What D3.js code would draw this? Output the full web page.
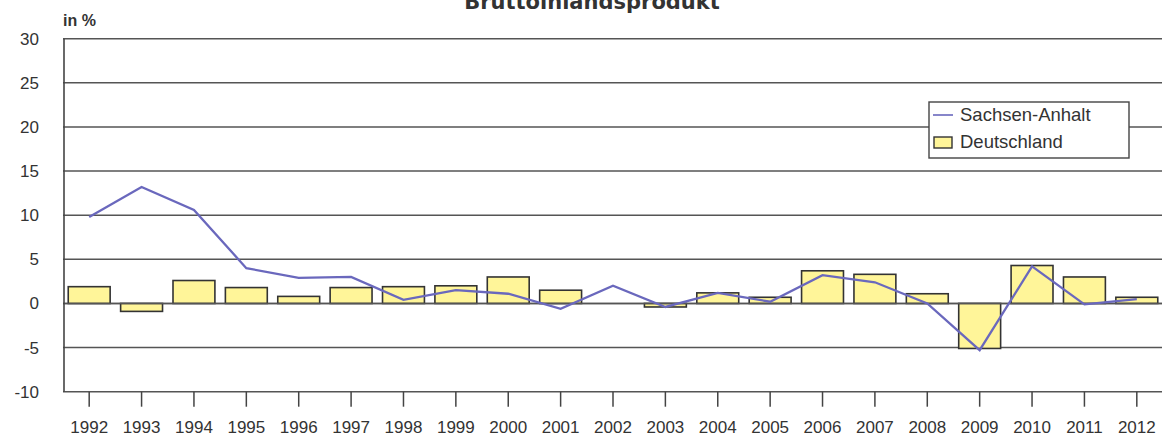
<!DOCTYPE html>
<html>
<head>
<meta charset="utf-8">
<script src="https://cdn.jsdelivr.net/npm/d3@7"></script>
<style>
  body { margin: 0; background: #fff; }
  text { font-family: "Liberation Sans", Arial, sans-serif; fill: #333; }
</style>
</head>
<body>
<script>
const years = ['1992', '1993', '1994', '1995', '1996', '1997', '1998', '1999', '2000', '2001', '2002',
  '2003', '2004', '2005', '2006', '2007', '2008', '2009', '2010', '2011', '2012'];
const deutschland = [1.9, -0.9, 2.6, 1.8, 0.8, 1.8, 1.9, 2.0, 3.0, 1.5, 0.0,
  -0.4, 1.2, 0.7, 3.7, 3.3, 1.1, -5.1, 4.3, 3.0, 0.7];
const sachsenAnhalt = [9.8, 13.2, 10.6, 4.0, 2.9, 3.0, 0.4, 1.5, 1.1, -0.6, 2.0,
  -0.4, 1.2, 0.2, 3.2, 2.4, 0.0, -5.3, 4.2, -0.1, 0.5];
const yTicks = [-10, -5, 0, 5, 10, 15, 20, 25, 30];

const width = 1162, height = 437;
const mLeft = 63, mRight = 1163, mTop = 38.7, mBottom = 391.7;

const svg = d3.select('body').append('svg')
    .attr('width', width)
    .attr('height', height);

const x = d3.scaleBand().domain(years).range([mLeft, mRight]).paddingInner(0.2).paddingOuter(0.1);
const y = d3.scaleLinear().domain([-10, 30]).range([mBottom, mTop]);

// title, cut off at the top edge as in the source picture
svg.append('text')
    .attr('x', 592).attr('y', 9)
    .attr('text-anchor', 'middle')
    .style('font-family', '"DejaVu Sans", Verdana, sans-serif')
    .style('font-size', '21px').style('font-weight', 'bold')
    .text('Bruttoinlandsprodukt');

svg.append('text')
    .attr('x', 63).attr('y', 26)
    .style('font-size', '16px').style('font-weight', 'bold')
    .text('in %');

// gridlines
svg.append('g')
  .selectAll('line')
  .data(yTicks)
  .join('line')
    .attr('x1', mLeft).attr('x2', width)
    .attr('y1', d => y(d)).attr('y2', d => y(d))
    .attr('stroke', '#555')
    .attr('stroke-width', 1.5);

// y axis labels
svg.append('g')
  .selectAll('text')
  .data(yTicks)
  .join('text')
    .attr('x', 39)
    .attr('y', d => y(d))
    .attr('dy', '0.35em')
    .attr('text-anchor', 'end')
    .style('font-size', '17px')
    .text(d => d);

// bars
svg.append('g')
  .selectAll('rect')
  .data(deutschland)
  .join('rect')
    .attr('x', (d, i) => x(years[i]))
    .attr('width', x.bandwidth())
    .attr('y', d => y(Math.max(0, d)))
    .attr('height', d => Math.abs(y(d) - y(0)))
    .attr('fill', '#fff599')
    .attr('stroke', '#333')
    .attr('stroke-width', 1.6);

// zero line on top of bars
svg.append('line')
    .attr('x1', mLeft).attr('x2', width)
    .attr('y1', y(0)).attr('y2', y(0))
    .attr('stroke', '#555')
    .attr('stroke-width', 1.5);

// y axis line
svg.append('line')
    .attr('x1', mLeft + 1).attr('x2', mLeft + 1)
    .attr('y1', mTop).attr('y2', mBottom)
    .attr('stroke', '#444')
    .attr('stroke-width', 1.6);

// line
const line = d3.line()
    .x((d, i) => x(years[i]) + x.bandwidth() / 2)
    .y(d => y(d));

svg.append('path')
    .datum(sachsenAnhalt)
    .attr('d', line)
    .attr('fill', 'none')
    .attr('stroke', '#6a68bd')
    .attr('stroke-width', 2.3);

// x ticks and labels
const xt = svg.append('g')
  .selectAll('g')
  .data(years)
  .join('g')
    .attr('transform', d => `translate(${x(d) + x.bandwidth() / 2},0)`);

xt.append('line')
    .attr('y1', mBottom).attr('y2', mBottom + 15)
    .attr('stroke', '#444')
    .attr('stroke-width', 1.5);

xt.append('text')
    .attr('y', 427)
    .attr('dy', '0.35em')
    .attr('text-anchor', 'middle')
    .style('font-size', '17px')
    .text(d => d);

// legend
const lg = svg.append('g').attr('transform', 'translate(929,102)');
lg.append('rect')
    .attr('width', 200).attr('height', 56)
    .attr('fill', '#fff')
    .attr('stroke', '#444')
    .attr('stroke-width', 1.4);
lg.append('line')
    .attr('x1', 4).attr('x2', 24)
    .attr('y1', 13).attr('y2', 13)
    .attr('stroke', '#6a68bd')
    .attr('stroke-width', 1.6);
lg.append('text')
    .attr('x', 31).attr('y', 13).attr('dy', '0.35em')
    .style('font-size', '18.5px')
    .text('Sachsen-Anhalt');
lg.append('rect')
    .attr('x', 5).attr('y', 35)
    .attr('width', 18).attr('height', 11)
    .attr('fill', '#fff599')
    .attr('stroke', '#333')
    .attr('stroke-width', 1.4);
lg.append('text')
    .attr('x', 31).attr('y', 40).attr('dy', '0.35em')
    .style('font-size', '18.5px')
    .text('Deutschland');
</script>
</body>
</html>
